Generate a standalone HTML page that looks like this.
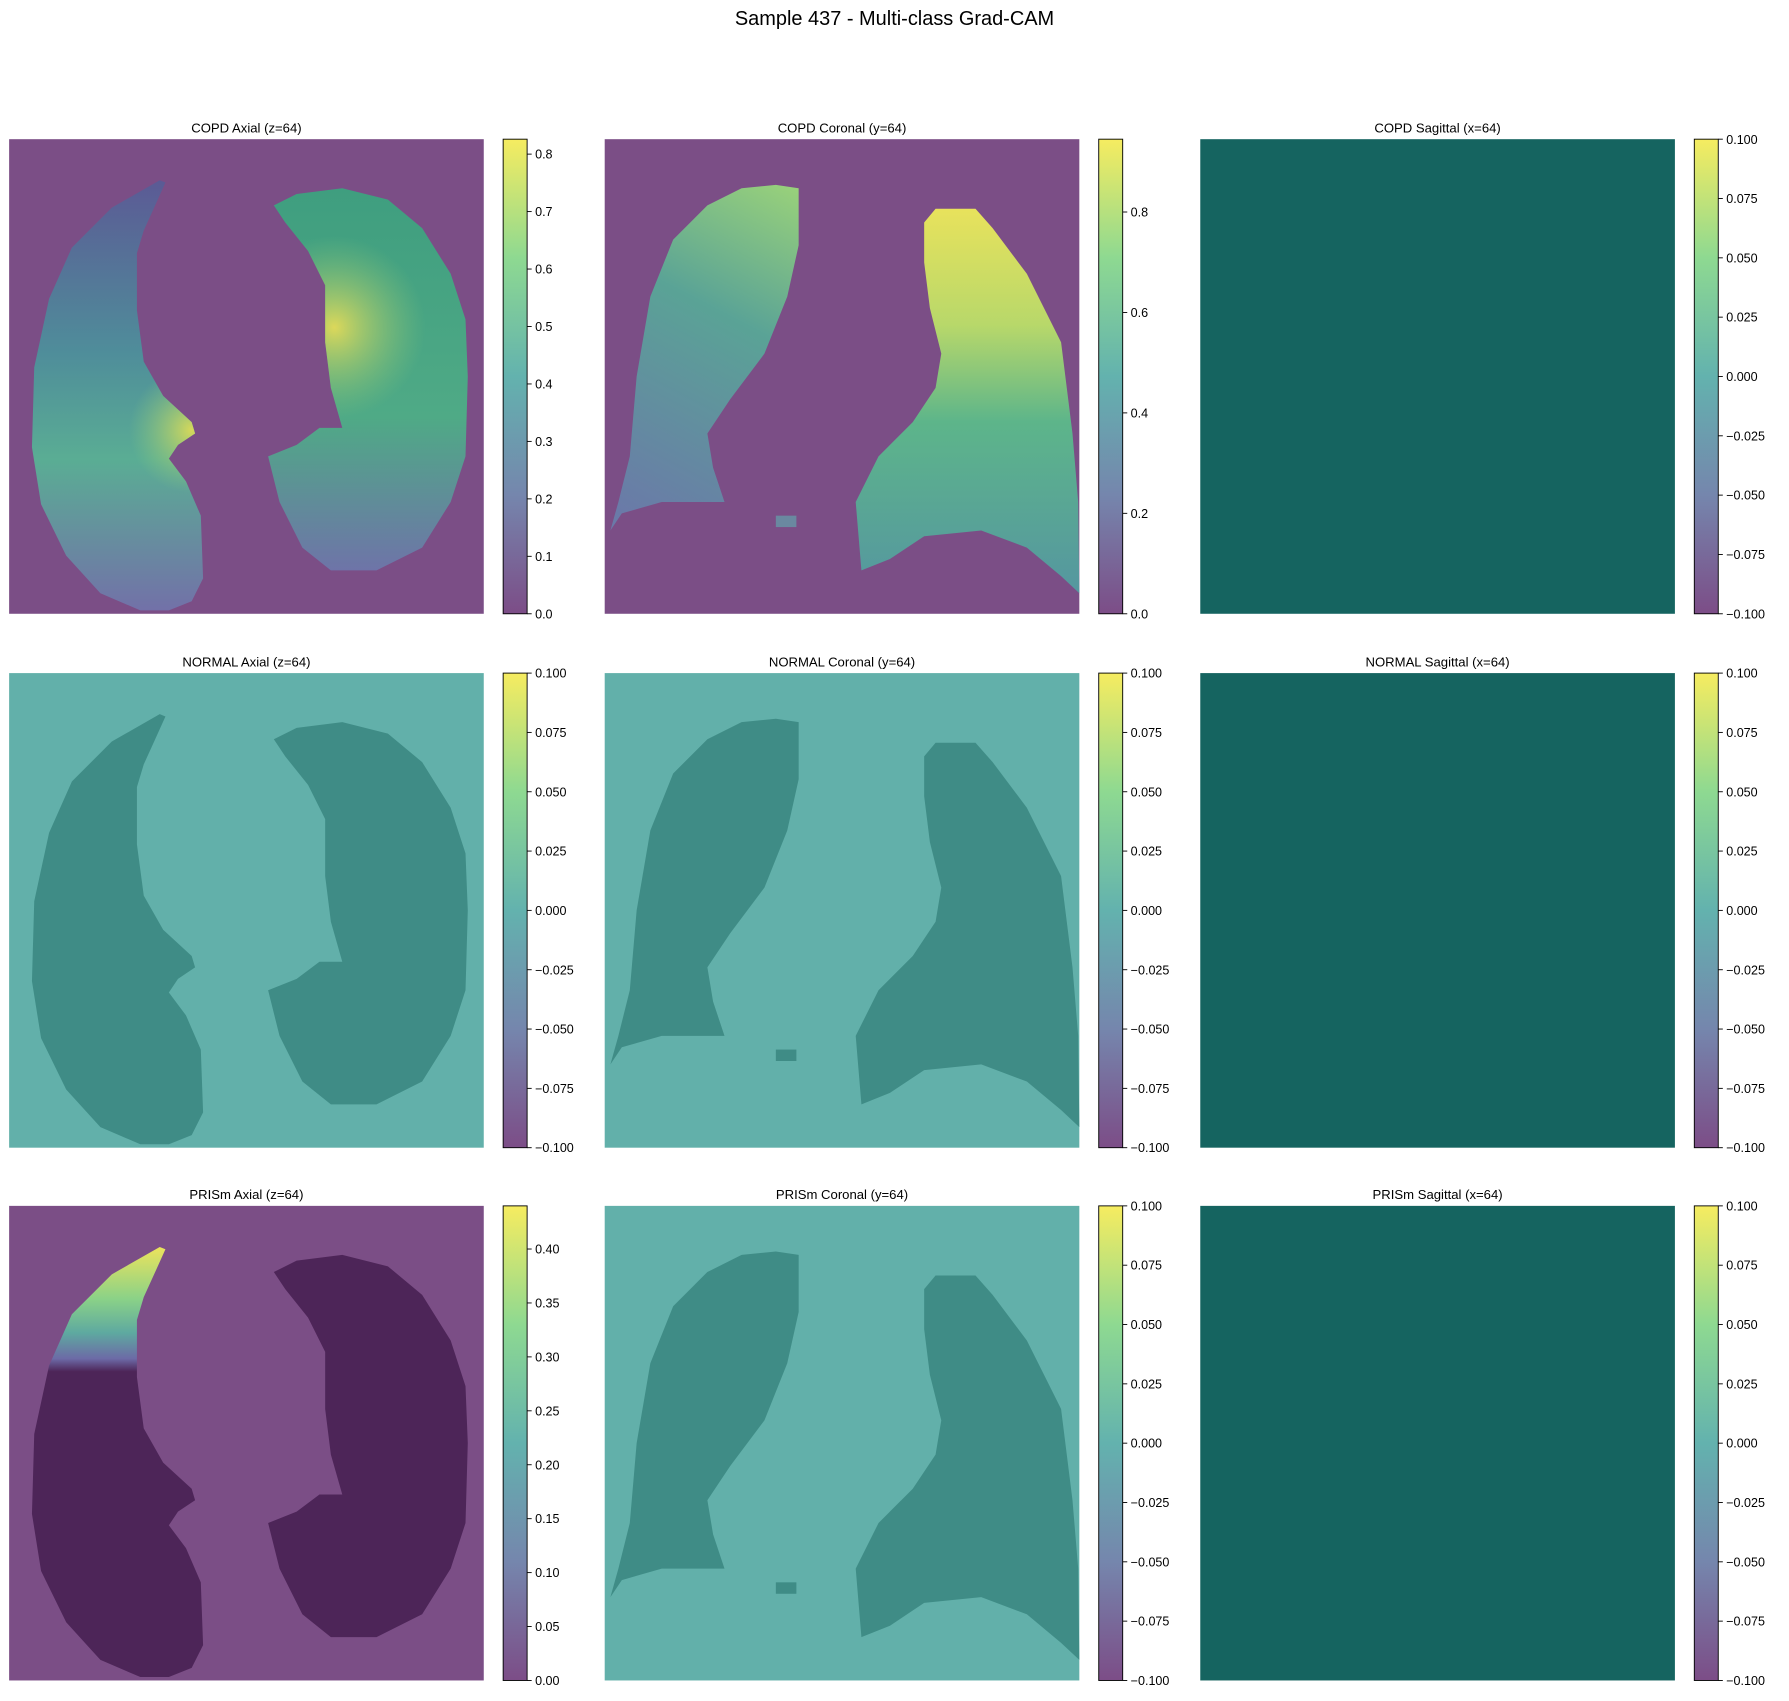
<!DOCTYPE html>
<html><head><meta charset="utf-8"><style>
html,body{margin:0;padding:0;background:#fff;}
svg{display:block;font-family:"Liberation Sans","DejaVu Sans",sans-serif;}
</style></head><body>
<svg id="fig" width="1789" height="1701" viewBox="0 0 1568 1491" preserveAspectRatio="none" xmlns="http://www.w3.org/2000/svg">
<defs>
  <linearGradient id="cbar" x1="0" y1="1" x2="0" y2="0">
    <stop offset="0" stop-color="#7c4d87"/><stop offset="0.25" stop-color="#7586ad"/>
    <stop offset="0.5" stop-color="#63b2ae"/><stop offset="0.75" stop-color="#8ed991"/>
    <stop offset="1" stop-color="#f6ec60"/>
  </linearGradient>
  <path id="axL" d="M132,36 L137,38 L128,58 L118,80 L112,100 L112,150 L118,195 L135,225 L160,248 L163,258 L148,268 L140,280 L155,300 L168,330 L170,385 L160,405 L140,413 L115,413 L80,398 L50,365 L28,320 L20,270 L22,200 L35,140 L55,95 L90,60 Z"/>
  <path id="axR" d="M232,58 L252,48 L292,43 L332,53 L362,78 L387,118 L400,158 L402,208 L400,278 L387,318 L362,358 L322,378 L282,378 L257,358 L237,318 L227,278 L252,268 L272,253 L292,253 L282,218 L277,178 L277,128 L262,98 L242,73 Z"/>
  <path id="coL" d="M150,40 L170,43 L170,93 L160,138 L140,188 L110,228 L90,258 L95,288 L105,318 L50,318 L15,328 L5,343 L12,318 L22,278 L28,208 L40,138 L60,88 L90,58 L120,43 Z"/>
  <path id="coR" d="M280,73 L290,61 L325,61 L340,78 L370,118 L400,178 L410,258 L415,318 L416,398 L400,383 L370,358 L330,343 L280,348 L250,368 L225,378 L220,318 L240,278 L270,248 L290,218 L295,188 L285,148 L280,108 Z"/>
  <linearGradient id="copdAxL" gradientUnits="userSpaceOnUse" x1="0" y1="36" x2="0" y2="413">
    <stop offset="0" stop-color="#5b5a95"/><stop offset="0.4" stop-color="#4f8d9a"/>
    <stop offset="0.65" stop-color="#5aad94"/><stop offset="1" stop-color="#7271a8"/>
  </linearGradient>
  <radialGradient id="copdAxLy" gradientUnits="userSpaceOnUse" cx="160" cy="255" r="55">
    <stop offset="0" stop-color="#d6d85a"/><stop offset="1" stop-color="#8fcf7c" stop-opacity="0"/>
  </radialGradient>
  <linearGradient id="copdAxR" gradientUnits="userSpaceOnUse" x1="0" y1="43" x2="0" y2="378">
    <stop offset="0" stop-color="#3f9e7f"/><stop offset="0.6" stop-color="#4faa86"/>
    <stop offset="1" stop-color="#6e74a8"/>
  </linearGradient>
  <radialGradient id="copdAxRy" gradientUnits="userSpaceOnUse" cx="285" cy="165" r="80">
    <stop offset="0" stop-color="#dcd85a"/><stop offset="1" stop-color="#8cc877" stop-opacity="0"/>
  </radialGradient>
  <linearGradient id="copdCoL" gradientUnits="userSpaceOnUse" x1="170" y1="40" x2="20" y2="330">
    <stop offset="0" stop-color="#9ad27a"/><stop offset="0.4" stop-color="#5aa396"/>
    <stop offset="1" stop-color="#6a7aa8"/>
  </linearGradient>
  <linearGradient id="copdCoR" gradientUnits="userSpaceOnUse" x1="0" y1="61" x2="0" y2="400">
    <stop offset="0" stop-color="#e8e25c"/><stop offset="0.3" stop-color="#b8d86a"/>
    <stop offset="0.55" stop-color="#5db58a"/><stop offset="1" stop-color="#5596a0"/>
  </linearGradient>
  <linearGradient id="prismAxL" gradientUnits="userSpaceOnUse" x1="0" y1="36" x2="0" y2="413">
    <stop offset="0" stop-color="#ece35c"/><stop offset="0.12" stop-color="#8bd287"/>
    <stop offset="0.2" stop-color="#5ea9a0"/><stop offset="0.26" stop-color="#6c6aa6"/>
    <stop offset="0.29" stop-color="#4d2558"/><stop offset="1" stop-color="#4d2558"/>
  </linearGradient>
</defs>
<text x="784" y="22" text-anchor="middle" font-size="17.5">Sample 437 - Multi-class Grad-CAM</text>
<g id="panels"></g>
</svg>
<script>
const panelTitles = ["COPD Axial (z=64)","COPD Coronal (y=64)","COPD Sagittal (x=64)",
  "NORMAL Axial (z=64)","NORMAL Coronal (y=64)","NORMAL Sagittal (x=64)",
  "PRISm Axial (z=64)","PRISm Coronal (y=64)","PRISm Sagittal (x=64)"];
const cbarMin = [0,0,-0.1,-0.1,-0.1,-0.1,0,-0.1,-0.1];
const cbarMax = [0.826,0.945,0.1,0.1,0.1,0.1,0.44,0.1,0.1];
const cbarTicks = [
  [0,0.1,0.2,0.3,0.4,0.5,0.6,0.7,0.8],
  [0,0.2,0.4,0.6,0.8],
  [-0.1,-0.075,-0.05,-0.025,0,0.025,0.05,0.075,0.1],
  [-0.1,-0.075,-0.05,-0.025,0,0.025,0.05,0.075,0.1],
  [-0.1,-0.075,-0.05,-0.025,0,0.025,0.05,0.075,0.1],
  [-0.1,-0.075,-0.05,-0.025,0,0.025,0.05,0.075,0.1],
  [0,0.05,0.1,0.15,0.2,0.25,0.3,0.35,0.4],
  [-0.1,-0.075,-0.05,-0.025,0,0.025,0.05,0.075,0.1],
  [-0.1,-0.075,-0.05,-0.025,0,0.025,0.05,0.075,0.1]];
const tickDecimals = [1,1,3,3,3,3,2,3,3];

const NS="http://www.w3.org/2000/svg";
const root=document.getElementById('panels');
const colX=[8,530,1052], rowY=[122,590,1057], S=416, cbOff=433, cbW=21;
function mk(tag,attrs,parent){const e=document.createElementNS(NS,tag);for(const k in attrs)e.setAttribute(k,attrs[k]);(parent||root).appendChild(e);return e;}
function fmt(v,d){const s=Math.abs(v).toFixed(d);return (v<0?"\u2212":"")+s;}

for(let i=0;i<9;i++){
  const r=Math.floor(i/3), c=i%3, x0=colX[c], y0=rowY[r];
  const g=mk('g',{transform:`translate(${x0},${y0})`});
  
  
  const t=mk('text',{x:S/2,y:-6,'text-anchor':'middle','font-size':11.5},g);
  t.textContent=panelTitles[i];
  
  
  const img=mk('g',{},g);
  
  
  let bg, fills=null, plane=c;
  if(c===2){bg='#156460';}
  else if(r===1 || (r===2&&c===1)){bg='#62b0aa';fills=['#3f8c86','#3f8c86'];}
  else if(r===0&&c===0){bg='#7b4e86';fills=['url(#copdAxL)','url(#copdAxR)'];}
  else if(r===0&&c===1){bg='#7b4e86';fills=['url(#copdCoL)','url(#copdCoR)'];}
  else {bg='#7b4e86';fills=['url(#prismAxL)','#4d2558'];}
  mk('rect',{x:0,y:0,width:S,height:S,fill:bg},img);
  if(fills){
    const ids=plane===0?['#axL','#axR']:['#coL','#coR'];
    mk('use',{href:ids[0],fill:fills[0]},img);
    mk('use',{href:ids[1],fill:fills[1]},img);
    if(r===0&&c===0){mk('use',{href:'#axL',fill:'url(#copdAxLy)'},img);mk('use',{href:'#axR',fill:'url(#copdAxRy)'},img);}
    if(plane===1) mk('rect',{x:150,y:330,width:18,height:10,fill:fills[0].startsWith('#')?fills[0]:'#6a88a0'},img);
  }
  const cb=mk('g',{transform:`translate(${cbOff},0)`},g);
  
  
  mk('rect',{x:0,y:0,width:cbW,height:S,fill:'url(#cbar)',stroke:'#000','stroke-width':0.8},cb);
  const lo=cbarMin[i], hi=cbarMax[i];
  const yOf=v=>S-(v-lo)/(hi-lo)*S;
  cbarTicks[i].forEach(v=>{
    const y=yOf(v);
    mk('line',{x1:cbW,x2:cbW+4,y1:y,y2:y,stroke:'#000','stroke-width':0.8},cb);
    const tt=mk('text',{x:cbW+7,y:y+4,'font-size':11},cb);
    tt.textContent=fmt(v,tickDecimals[i]);
    
    
  });
}
</script>
</body></html>
